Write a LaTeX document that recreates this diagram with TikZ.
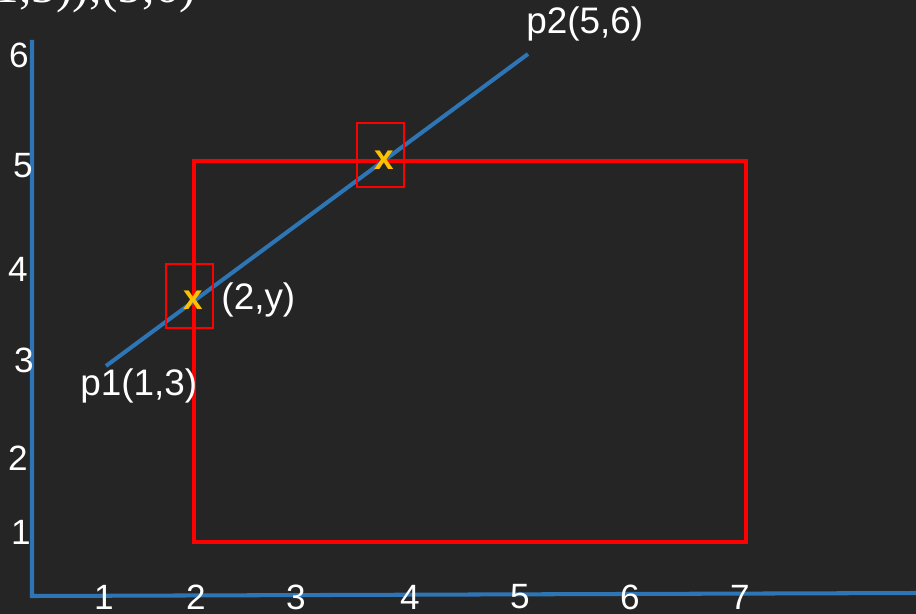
\documentclass[tikz,border=0pt]{standalone}
\usepackage{fontspec}
\setmainfont{Liberation Sans}
\newfontfamily\chalkserif{Liberation Serif}
\usetikzlibrary{positioning}
\definecolor{board}{RGB}{37,37,37}
\definecolor{axisblue}{RGB}{46,117,182}
\definecolor{markyellow}{RGB}{255,192,0}

\begin{document}
\begin{tikzpicture}[x=0.02cm, y=-0.02cm,
    lbl/.style={text=white, font=\fontsize{21}{24}\selectfont, inner sep=0pt},
    tick/.style={text=white, font=\fontsize{20}{22}\selectfont, inner sep=0pt},
    bluepath/.style={draw=axisblue, line width=2.3pt},
    cross/.style={text=markyellow, font=\bfseries\fontsize{20}{22}\selectfont, inner sep=0pt},
    markbox/.style={draw=red, line width=1.1pt, minimum width=0.94cm, minimum height=1.28cm, inner sep=0pt}]
    % chalkboard
    \fill[board] (0,0) rectangle (916,614);
    \useasboundingbox (0,0) rectangle (916,614);
    \clip (0,0) rectangle (916,614);

    % cut-off heading
    \node[text=white, font=\chalkserif\fontsize{28}{30}\selectfont, inner sep=0pt, anchor=base east] (head) at (196,3) {1,3)),(5,6)};

    % axes
    \draw[bluepath] (32,40) -- (32,596) -- (916,593);

    % clipping window
    \draw[red, line width=2.8pt] (194,161) rectangle (746,542);

    % line p1 -> p2
    \coordinate (p1) at (106,366);
    \coordinate (p2) at (528,54);
    \draw[bluepath] (p1) -- (p2);

    % intersection marks
    \node[markbox] (boxA) at (189.5,296) {};
    \node[markbox] (boxB) at (380.5,155) {};
    \node[cross] (crossA) at (193,300) {x};
    \node[cross] (crossB) at (384,160) {x};

    % labels
    \node[lbl, right=0.36cm of crossA] (ylbl) {(2,y)};
    \node[lbl, anchor=west] (p1lbl) at (80,386) {p1(1,3)};
    \node[lbl, anchor=west] (p2lbl) at (526,24) {p2(5,6)};

    % tick numbers
    \foreach \v/\px/\py in {6/19/55, 5/23/166, 4/18/269, 3/24/360, 2/18/458, 1/21/532}
        \node[tick] (yt\v) at (\px,\py) {\v};
    \foreach \v/\px in {1/104, 2/196, 3/296, 4/410, 5/520, 6/630, 7/740}
        \node[tick] (xt\v) at (\px,597) {\v};
\end{tikzpicture}
\end{document}
